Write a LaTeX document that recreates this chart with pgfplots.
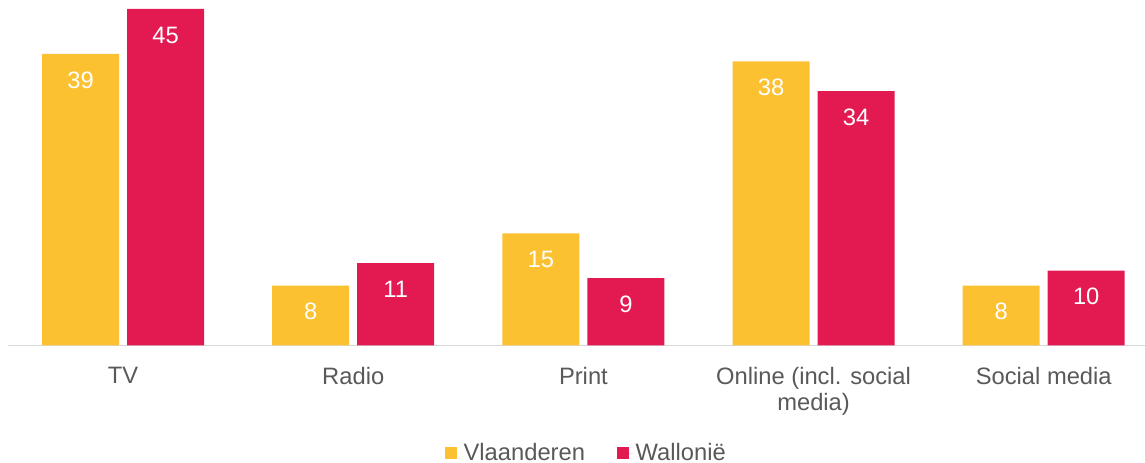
\documentclass[border=0pt]{standalone}
\usepackage{pgfplots}
\pgfplotsset{compat=1.18}
\usepackage{fontspec}
\setmainfont{Liberation Sans}
\definecolor{vyel}{HTML}{FBC131}
\definecolor{wred}{HTML}{E31951}
\definecolor{tgray}{HTML}{595959}
\definecolor{lgray}{HTML}{D9D9D9}
\newcommand\lbl{\fontsize{17.8}{19.5}\selectfont}
\begin{document}
\begin{tikzpicture}
\useasboundingbox (0pt,0pt) rectangle (858.75pt,347.25pt);
\begin{axis}[
  at={(6pt,88.125pt)}, anchor=south west,
  scale only axis,
  width=852.75pt, height=252.4pt,
  xmin=-0.5, xmax=4.44, ymin=0, ymax=45,
  enlargelimits=false,
  ybar=6pt,
  axis x line*=bottom, axis y line=none,
  x axis line style={draw=lgray, line width=1.1pt, -},
  xtick={0,1,2,3,4},
  xticklabels={TV, Radio, Print, {Online (incl. social\\media)}, Social media},
  xticklabel style={font=\lbl, text=tgray, align=center, yshift=-12.9pt},
  major tick length=0pt,
  ytick=\empty,
  bar width=57.75pt,
  /pgf/number format/assume math mode=true,
  nodes near coords,
  every node near coord/.append style={font=\lbl, text=white, anchor=center, yshift=-19.5pt},
  legend columns=2,
  legend style={draw=none, fill=none, font=\lbl, text=tgray, at={(0.509,-0.3195)}, anchor=center,
    inner sep=0pt, nodes={inner ysep=0.5pt},
    /tikz/every even column/.append style={column sep=22pt}},
  legend image code/.code={\fill[#1] (0pt,-4.5pt) rectangle (9pt,4.5pt); \path (0pt,0pt) -- (12pt,0pt);},
]
\addplot[fill=vyel, draw=none] coordinates {(0,39) (1,8) (2,15) (3,38) (4,8)};
\addplot[fill=wred, draw=none] coordinates {(0,45) (1,11) (2,9) (3,34) (4,10)};
\legend{Vlaanderen, Wallonië}
\end{axis}
\end{tikzpicture}
\end{document}
